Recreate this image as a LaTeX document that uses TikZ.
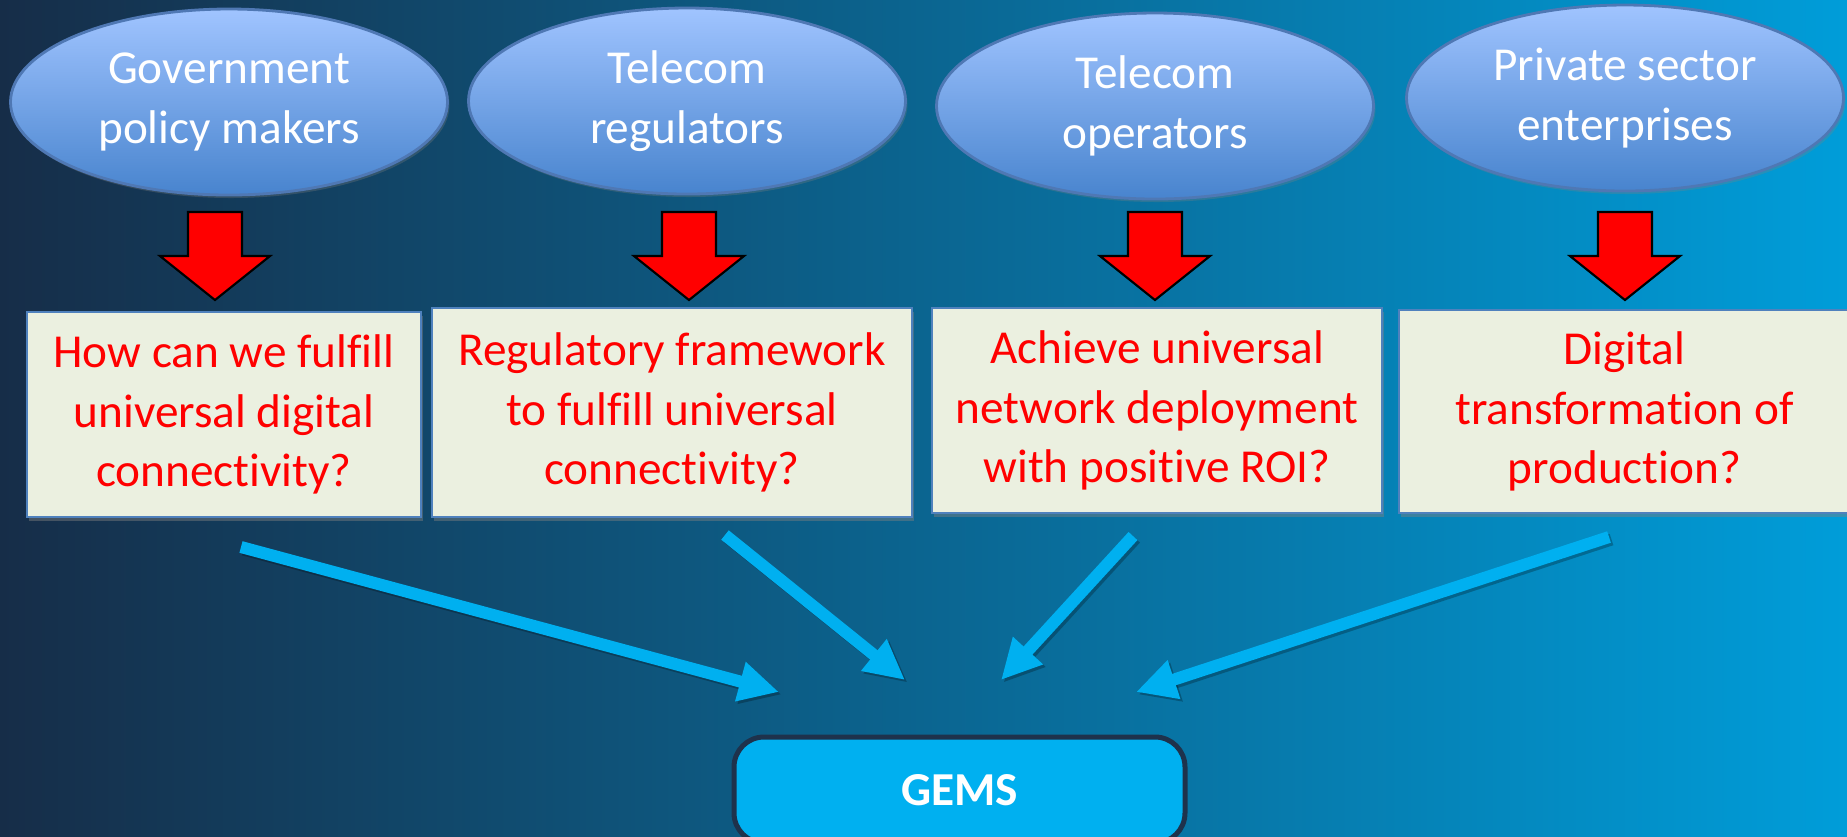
\documentclass[tikz,border=0pt]{standalone}
\usepackage{fontspec}
\setmainfont{Carlito}[Ligatures=NoCommon]
\usetikzlibrary{shapes.geometric, arrows.meta, shadows}

\definecolor{bgleft}{RGB}{22,45,72}
\definecolor{bgmid}{RGB}{12,100,150}
\definecolor{bgright}{RGB}{0,157,217}
\definecolor{ovaltop}{RGB}{160,196,255}
\definecolor{ovalbot}{RGB}{72,132,206}
\definecolor{ovalline}{RGB}{79,120,180}
\definecolor{boxfill}{RGB}{235,240,224}
\definecolor{boxline}{RGB}{79,129,189}
\definecolor{gemsblue}{RGB}{0,176,240}
\definecolor{gemsline}{RGB}{30,50,76}

\begin{document}
\begin{tikzpicture}[
  actor/.style = {ellipse, draw=ovalline, line width=0.8pt, top color=ovaltop, bottom color=ovalbot,
    minimum width=4.37cm, minimum height=1.86cm, inner sep=0pt, align=center, text=white,
    font=\fontsize{13.45}{17}\selectfont,
    drop shadow={shadow xshift=0.02cm, shadow yshift=-0.03cm, opacity=0.3}},
  question/.style = {rectangle, draw=boxline, line width=0.8pt, fill=boxfill, align=center,
    text=red, inner sep=0pt, font=\fontsize{13.45}{17}\selectfont,
    drop shadow={shadow xshift=0.02cm, shadow yshift=-0.04cm, opacity=0.45}},
  gemsbox/.style = {rectangle, rounded corners=0.3cm, draw=gemsline, line width=0.05cm,
    fill=gemsblue, text=white, minimum width=4.51cm, minimum height=1.06cm,
    font=\fontsize{13.45}{17}\selectfont\bfseries},
  redarrow/.style = {draw=black, line width=0.6pt, fill=red},
  feed/.style = {draw=gemsblue, line width=0.12cm, -{Triangle[length=0.4cm,width=0.38cm]}},
  feedshadow/.style = {feed, draw=black, opacity=0.25, transform canvas={xshift=0.025cm,yshift=-0.025cm}},
]
\useasboundingbox (0,0) rectangle (18.47,-8.36);
\shade[left color=bgleft, middle color=bgmid, right color=bgright] (0,0) rectangle (18.47,-8.36);

% stakeholders
\node[actor] (gov) at (2.29,-1.02) {Government\\policy makers};
\node[actor] (reg) at (6.87,-1.01) {Telecom\\regulators};
\node[actor] (ops) at (11.55,-1.06) {Telecom\\operators};
\node[actor] (ent) at (16.25,-0.98) {Private sector\\enterprises};

% block arrows
\foreach \x in {2.15,6.89,11.55,16.25}
  \draw[redarrow] ({\x-0.27},-2.12) -- ({\x+0.27},-2.12) -- ({\x+0.27},-2.56) -- ({\x+0.55},-2.56)
    -- (\x,-3.00) -- ({\x-0.55},-2.56) -- ({\x-0.27},-2.56) -- cycle;

% questions
\node[question, minimum width=3.94cm, minimum height=2.05cm] (q1) at (2.24,-4.145) {How can we fulfill\\universal digital\\connectivity?};
\node[question, minimum width=4.80cm, minimum height=2.09cm] (q2) at (6.72,-4.125) {Regulatory framework\\to fulfill universal\\connectivity?};
\node[question, minimum width=4.50cm, minimum height=2.05cm] (q3) at (11.57,-4.105) {Achieve universal\\network deployment\\with positive ROI?};
\node[question, minimum width=4.51cm, minimum height=2.03cm] (q4) at (16.245,-4.115) {Digital\\transformation of\\production?};

\node[gemsbox] (gems) at (9.595,-7.9) {GEMS};

% feeds into GEMS
\coordinate (s1) at (2.41,-5.47);  \coordinate (t1) at (7.79,-6.92);
\coordinate (s2) at (7.25,-5.35);  \coordinate (t2) at (9.05,-6.80);
\coordinate (s3) at (11.33,-5.36); \coordinate (t3) at (10.01,-6.80);
\coordinate (s4) at (16.09,-5.37); \coordinate (t4) at (11.36,-6.92);
\foreach \i in {1,...,4} {
  \draw[feedshadow] (s\i) -- (t\i);
  \draw[feed] (s\i) -- (t\i);
}
\end{tikzpicture}
\end{document}
